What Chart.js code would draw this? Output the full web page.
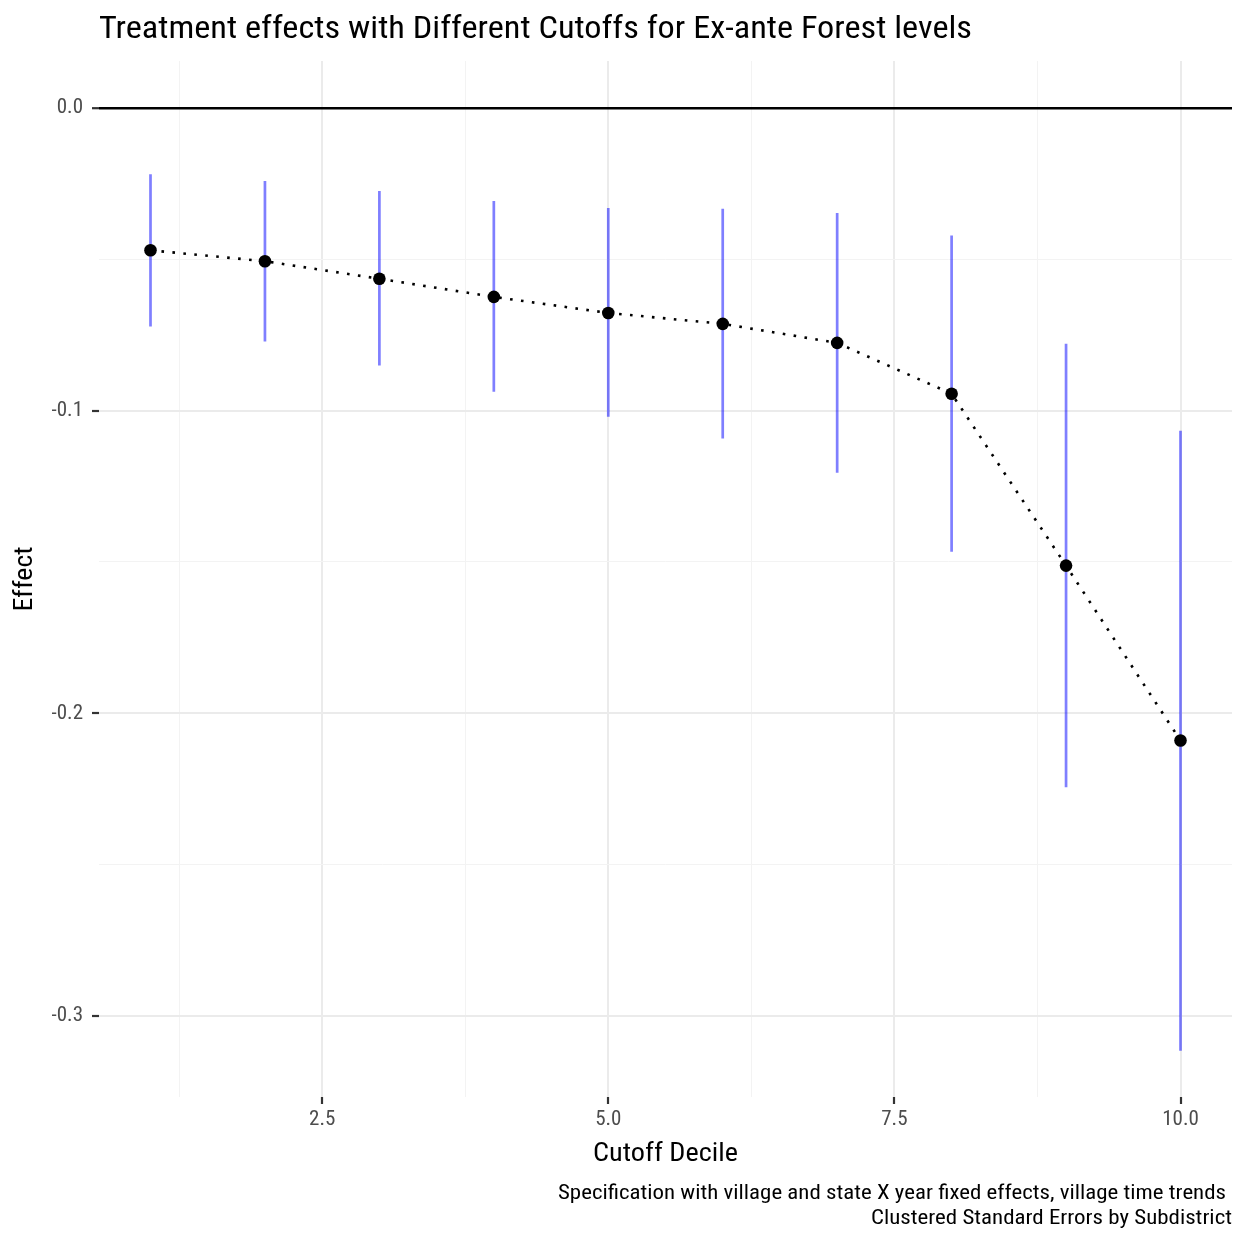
<!DOCTYPE html>
<html><head><meta charset="utf-8">
<script src="https://cdn.jsdelivr.net/npm/chart.js@4.4.1/dist/chart.umd.min.js"></script>
<style>html,body{margin:0;padding:0;background:#fff}canvas{display:block}</style>
</head><body>
<canvas id="c" width="1241" height="1236"></canvas>
<script>
const deciles = [1, 2, 3, 4, 5, 6, 7, 8, 9, 10];
const effect  = [-0.0470, -0.0506, -0.0564, -0.0624, -0.0677, -0.0713, -0.0776, -0.0944, -0.1512, -0.2090];
const ciLow   = [-0.0722, -0.0771, -0.0851, -0.0937, -0.1020, -0.1092, -0.1205, -0.1466, -0.2244, -0.3115];
const ciHigh  = [-0.0219, -0.0241, -0.0274, -0.0307, -0.0330, -0.0333, -0.0347, -0.0421, -0.0779, -0.1066];
const xMajorTicks  = [2.5, 5, 7.5, 10];
const xMajorLabels = ['2.5', '5.0', '7.5', '10.0'];
const xMinorTicks  = [1.25, 3.75, 6.25, 8.75];
const yMajorTicks  = [0, -0.1, -0.2, -0.3];
const yMajorLabels = ['0.0', '-0.1', '-0.2', '-0.3'];
const yMinorTicks  = [-0.05, -0.15, -0.25];
const titleText = 'Treatment effects with Different Cutoffs for Ex-ante Forest levels';
const xTitleText = 'Cutoff Decile';
const yTitleText = 'Effect';
const captionLines = ['Specification with village and state X year fixed effects, village time trends', 'Clustered Standard Errors by Subdistrict'];

const FONT = "'Roboto Condensed', 'Roboto', 'Liberation Sans', sans-serif";
const eq = (a, b) => Math.abs(a - b) < 1e-9;
const idxOf = (arr, v) => arr.findIndex(t => eq(t, v));

const errData = [];
deciles.forEach((d, i) => {
  errData.push({x: d, y: ciLow[i]}, {x: d, y: ciHigh[i]}, {x: d, y: null});
});
const ptData = deciles.map((d, i) => ({x: d, y: effect[i]}));

function fitText(ctx, text, x, y, size, targetW, align) {
  ctx.save();
  ctx.font = size + 'px ' + FONT;
  const w = ctx.measureText(text).width;
  const s = targetW / w;
  ctx.translate(x, y);
  ctx.scale(s, 1);
  ctx.textAlign = align;
  ctx.textBaseline = 'alphabetic';
  ctx.fillText(text, 0, 0);
  ctx.restore();
}

const textPlugin = {
  id: 'texts',
  afterDraw(chart) {
    const ctx = chart.ctx;
    const ca = chart.chartArea;
    ctx.fillStyle = '#000';
    fitText(ctx, titleText, 99, 38, 31, 873, 'left');
    fitText(ctx, xTitleText, (ca.left + ca.right) / 2, 1161, 26, 145, 'center');
    ctx.save();
    ctx.translate(32, (ca.top + ca.bottom) / 2);
    ctx.rotate(-Math.PI / 2);
    fitText(ctx, yTitleText, 0, 0, 26, 65, 'center');
    ctx.restore();
    fitText(ctx, captionLines[0], 1226, 1199, 19.5, 668, 'right');
    fitText(ctx, captionLines[1], 1232, 1224, 19.5, 361, 'right');
  }
};

new Chart(document.getElementById('c'), {
  type: 'scatter',
  data: {
    datasets: [
      {
        type: 'line', data: ptData, order: 1,
        borderColor: '#000', borderWidth: 2.6, borderDash: [2.6, 8.4],
        pointRadius: 6.3, pointBackgroundColor: '#000', pointBorderColor: '#000', pointBorderWidth: 0,
        pointHoverRadius: 6.3, tension: 0, fill: false
      },
      {
        type: 'line', data: errData, order: 2, spanGaps: false,
        borderColor: 'rgba(0,0,255,0.5)', borderWidth: 2.7, pointRadius: 0, pointHoverRadius: 0,
        fill: false, borderCapStyle: 'butt'
      }
    ]
  },
  options: {
    responsive: false,
    animation: false,
    devicePixelRatio: 1,
    events: [],
    layout: {padding: {left: 0, top: 61, right: 9, bottom: 0}},
    plugins: {legend: {display: false}, tooltip: {enabled: false}, title: {display: false}},
    scales: {
      x: {
        type: 'linear', min: 0.55, max: 10.45,
        afterBuildTicks: (s) => { s.ticks = [...xMinorTicks, ...xMajorTicks].sort((a, b) => a - b).map(v => ({value: v})); },
        afterFit: (s) => { s.height = 139; },
        border: {display: false},
        grid: {
          color: (c) => idxOf(xMajorTicks, c.tick.value) >= 0 ? '#ebebeb' : '#f3f3f3',
          lineWidth: (c) => idxOf(xMajorTicks, c.tick.value) >= 0 ? 2 : 1,
          tickColor: (c) => idxOf(xMajorTicks, c.tick.value) >= 0 ? '#333333' : 'rgba(0,0,0,0)',
          tickWidth: 2.2, tickLength: 7, drawTicks: true
        },
        ticks: {
          autoSkip: false, maxRotation: 0, padding: 3, color: '#4d4d4d',
          font: {family: FONT, size: 21},
          callback: (v) => { const i = idxOf(xMajorTicks, v); return i >= 0 ? xMajorLabels[i] : ''; }
        }
      },
      y: {
        type: 'linear', min: -0.3268, max: 0.01556,
        afterBuildTicks: (s) => { s.ticks = [...yMinorTicks, ...yMajorTicks].sort((a, b) => a - b).map(v => ({value: v})); },
        afterFit: (s) => { s.width = 99; },
        border: {display: false},
        grid: {
          color: (c) => eq(c.tick.value, 0) ? '#000' : (idxOf(yMajorTicks, c.tick.value) >= 0 ? '#ebebeb' : '#f3f3f3'),
          lineWidth: (c) => eq(c.tick.value, 0) ? 2.4 : (idxOf(yMajorTicks, c.tick.value) >= 0 ? 2 : 1),
          tickColor: (c) => idxOf(yMajorTicks, c.tick.value) >= 0 ? '#333333' : 'rgba(0,0,0,0)',
          tickWidth: 2.2, tickLength: 7, drawTicks: true
        },
        ticks: {
          autoSkip: false, padding: 9, color: '#4d4d4d',
          font: {family: FONT, size: 21},
          callback: (v) => { const i = idxOf(yMajorTicks, v); return i >= 0 ? yMajorLabels[i] : ''; }
        }
      }
    }
  },
  plugins: [textPlugin]
});
</script>
</body></html>
